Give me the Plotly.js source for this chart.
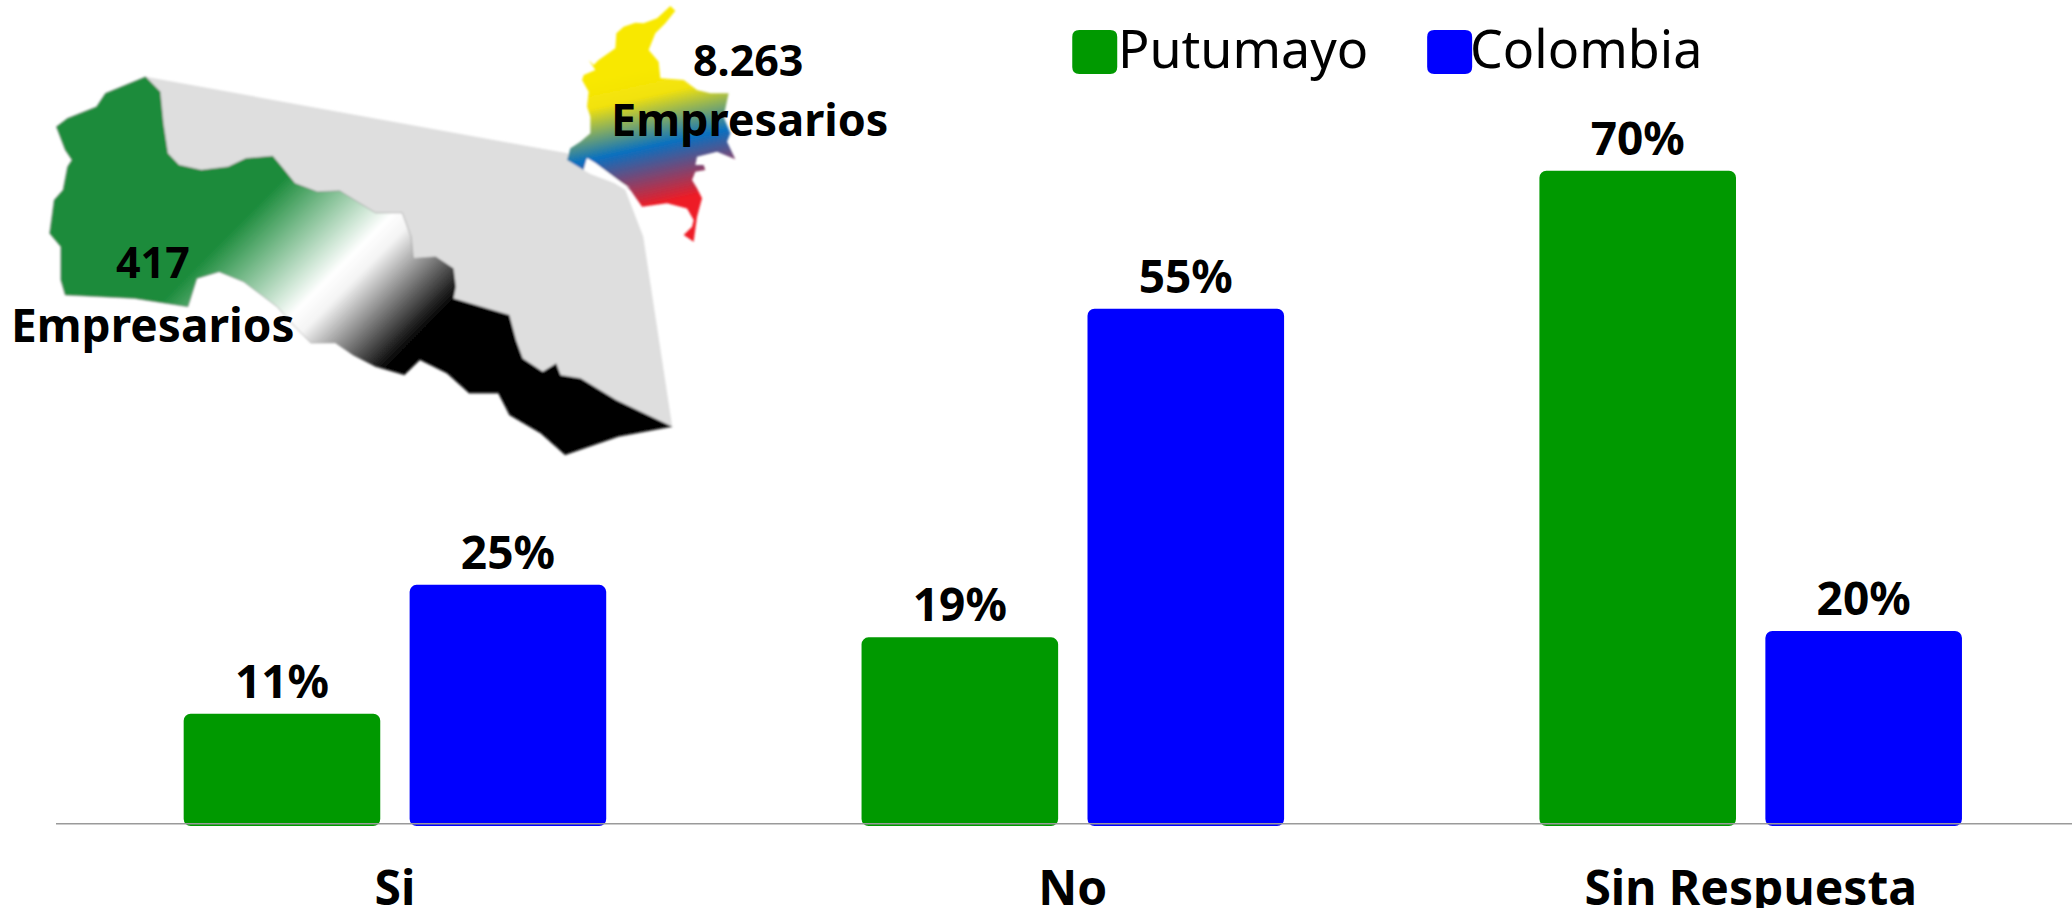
<!DOCTYPE html>
<html>
<head>
<meta charset="utf-8">
<script src="https://cdn.plot.ly/plotly-3.0.1.min.js"></script>
<style>html,body{margin:0;padding:0;background:#fff}#chart{width:2072px;height:908px}</style>
</head>
<body>
<div id="chart"></div>
<script>
const categories = ['Si', 'No', 'Sin Respuesta'];
const seriesNames = ['Putumayo', 'Colombia'];
const putumayoValues = [11, 19.3, 70];
const colombiaValues = [25, 55, 20];
const putumayoLabels = ['11%', '19%', '70%'];
const colombiaLabels = ['25%', '55%', '20%'];
const seriesColors = ['#009900', '#0000ff'];

const W = 2072, H = 908;
const M = {l: 55.5, r: 0, t: 0, b: 82.3};
const PW = W - M.l - M.r, PH = H - M.t - M.b;
const px = x => (x - M.l) / PW;
const py = y => 1 - (y - M.t) / PH;
const BASE = -1.2;
const FONT = '"Noto Sans", "Open Sans", sans-serif';

/* decorative map artwork */
const outlineRaw = [[325,80],[358,125],[365,220],[375,310],[400,345],[450,360],[510,350],[550,325],[610,318],[630,350],[660,400],[710,425],[760,422],[800,455],[840,488],[900,488],[920,560],[925,625],[975,620],[1015,655],[1020,710],[1015,745],[1090,775],[1140,795],[1155,870],[1170,925],[1215,965],[1245,940],[1255,975],[1300,985],[1380,1050],[1505,1130],[1385,1160],[1265,1215],[1210,1150],[1140,1095],[1115,1030],[1050,1030],[1000,970],[940,930],[905,975],[840,950],[790,915],[750,878],[695,878],[660,830],[620,770],[590,740],[545,695],[490,665],[440,685],[420,770],[300,745],[145,735],[135,690],[135,590],[110,550],[120,450],[140,420],[150,350],[160,330],[145,300],[125,230],[150,205],[215,170],[235,130]];
const shadowRaw = [[325,80],[1270,310],[1400,420],[1440,560]].concat(outlineRaw.slice(0, 32).reverse());
const colombiaRaw = [[390,18],[405,32],[375,70],[345,100],[325,150],[355,185],[360,235],[430,240],[470,270],[510,280],[565,280],[550,350],[570,400],[560,425],[585,478],[530,455],[470,470],[465,495],[490,495],[495,510],[465,515],[455,540],[470,565],[485,595],[470,650],[460,725],[430,705],[455,680],[460,660],[440,625],[380,610],[305,620],[270,570],[240,545],[165,490],[140,475],[130,510],[80,480],[90,445],[120,425],[150,400],[150,350],[140,320],[145,275],[125,240],[130,225],[165,210],[145,180],[160,195],[175,180],[225,145],[228,100],[250,80],[285,68],[310,70],[350,55]];
const gapRaw = [[140,475],[165,490],[240,545],[270,565],[230,552],[150,522],[130,510]];
const z1 = p => [p[0] / 2.24, 50 + p[1] / 3];
const z2 = p => [540 + p[0] / 3, p[1] / 3];
const pts = (a, f) => a.map(f).map(p => p[0].toFixed(1) + ',' + p[1].toFixed(1)).join(' ');
const svg = `<svg xmlns="http://www.w3.org/2000/svg" width="${W}" height="${H}" viewBox="0 0 ${W} ${H}">
<defs>
<linearGradient id="g" gradientUnits="userSpaceOnUse" x1="213" y1="214" x2="386" y2="386">
<stop offset="0" stop-color="#1b8b3b"/><stop offset="0.1" stop-color="#1b8b3b"/><stop offset="0.52" stop-color="#ffffff"/><stop offset="0.6" stop-color="#f4f4f4"/><stop offset="0.95" stop-color="#000000"/><stop offset="1" stop-color="#000000"/>
</linearGradient>
<linearGradient id="c" gradientUnits="userSpaceOnUse" x1="560" y1="88" x2="589" y2="219">
<stop offset="0" stop-color="#f8e800"/><stop offset="0.2" stop-color="#f2e20c"/><stop offset="0.57" stop-color="#0a70c0"/><stop offset="1" stop-color="#ee1c25"/>
</linearGradient>
<filter id="b"><feGaussianBlur stdDeviation="0.8"/></filter>
</defs>
<g filter="url(#b)">
<polygon points="${pts(shadowRaw, z1)}" fill="#dedede"/>
<polygon points="${pts(outlineRaw, z1)}" fill="url(#g)" stroke="#8a8a8a" stroke-width="0.6"/>
<polygon points="${pts(colombiaRaw, z2)}" fill="url(#c)"/>
<polygon points="${pts(gapRaw, z2)}" fill="#ffffff"/>
</g></svg>`;

function roundRect(x0, y0, x1, y1, r) {
  return `M${px(x0 + r)},${py(y0)} L${px(x1 - r)},${py(y0)} Q${px(x1)},${py(y0)} ${px(x1)},${py(y0 + r)} ` +
         `L${px(x1)},${py(y1 - r)} Q${px(x1)},${py(y1)} ${px(x1 - r)},${py(y1)} L${px(x0 + r)},${py(y1)} ` +
         `Q${px(x0)},${py(y1)} ${px(x0)},${py(y1 - r)} L${px(x0)},${py(y0 + r)} Q${px(x0)},${py(y0)} ${px(x0 + r)},${py(y0)} Z`;
}

function barTrace(i, vals, labels) {
  return {
    type: 'bar', name: seriesNames[i], x: categories,
    y: vals.map(v => v - BASE), base: BASE,
    text: labels, textposition: 'outside', cliponaxis: false,
    textfont: {family: FONT, size: 46, color: '#000', weight: 700},
    marker: {color: seriesColors[i], cornerradius: 7, line: {width: 0}},
    hoverinfo: 'skip'
  };
}

const ann = (text, x, y, size, weight) => ({
  text, xref: 'paper', yref: 'paper', x: px(x), y: py(y), xanchor: 'center', yanchor: 'middle',
  showarrow: false, font: {family: FONT, size, color: '#000', weight}
});

const layout = {
  width: W, height: H, margin: M, paper_bgcolor: '#fff', plot_bgcolor: 'rgba(0,0,0,0)',
  showlegend: false, barmode: 'group', bargap: 1 / 3, bargroupgap: 0.13,
  xaxis: {
    type: 'category', range: [-0.5, 2.474], showgrid: false, zeroline: false, showline: false,
    ticks: 'outside', ticklen: 20, tickcolor: 'rgba(0,0,0,0)',
    tickfont: {family: FONT, size: 48, color: '#000', weight: 700}, fixedrange: true
  },
  yaxis: {range: [BASE, 88.55], visible: false, fixedrange: true},
  shapes: [
    {type: 'line', xref: 'paper', yref: 'paper', x0: 0, x1: 1, y0: py(823.5), y1: py(823.5), line: {color: '#9a9a9a', width: 1.5}, layer: 'above'},
    {type: 'path', xref: 'paper', yref: 'paper', path: roundRect(1072, 30, 1117, 74, 7), fillcolor: seriesColors[0], line: {width: 0}},
    {type: 'path', xref: 'paper', yref: 'paper', path: roundRect(1427, 30, 1472, 74, 7), fillcolor: seriesColors[1], line: {width: 0}}
  ],
  images: [{
    source: 'data:image/svg+xml;charset=utf-8,' + encodeURIComponent(svg),
    xref: 'paper', yref: 'paper', x: px(0), y: py(0), sizex: W / PW, sizey: H / PH,
    sizing: 'stretch', xanchor: 'left', yanchor: 'top', layer: 'below'
  }],
  annotations: [
    ann(seriesNames[0], 1243, 47, 52, 400),
    ann(seriesNames[1], 1586, 47, 52, 400),
    ann('417', 153, 261, 43, 700),
    ann('Empresarios', 153, 324, 46, 700),
    ann('8.263', 748, 59, 43, 700),
    ann('Empresarios', 749, 118, 45, 700)
  ]
};

Plotly.newPlot('chart', [barTrace(0, putumayoValues, putumayoLabels), barTrace(1, colombiaValues, colombiaLabels)], layout, {displayModeBar: false, staticPlot: true});
</script>
</body>
</html>
